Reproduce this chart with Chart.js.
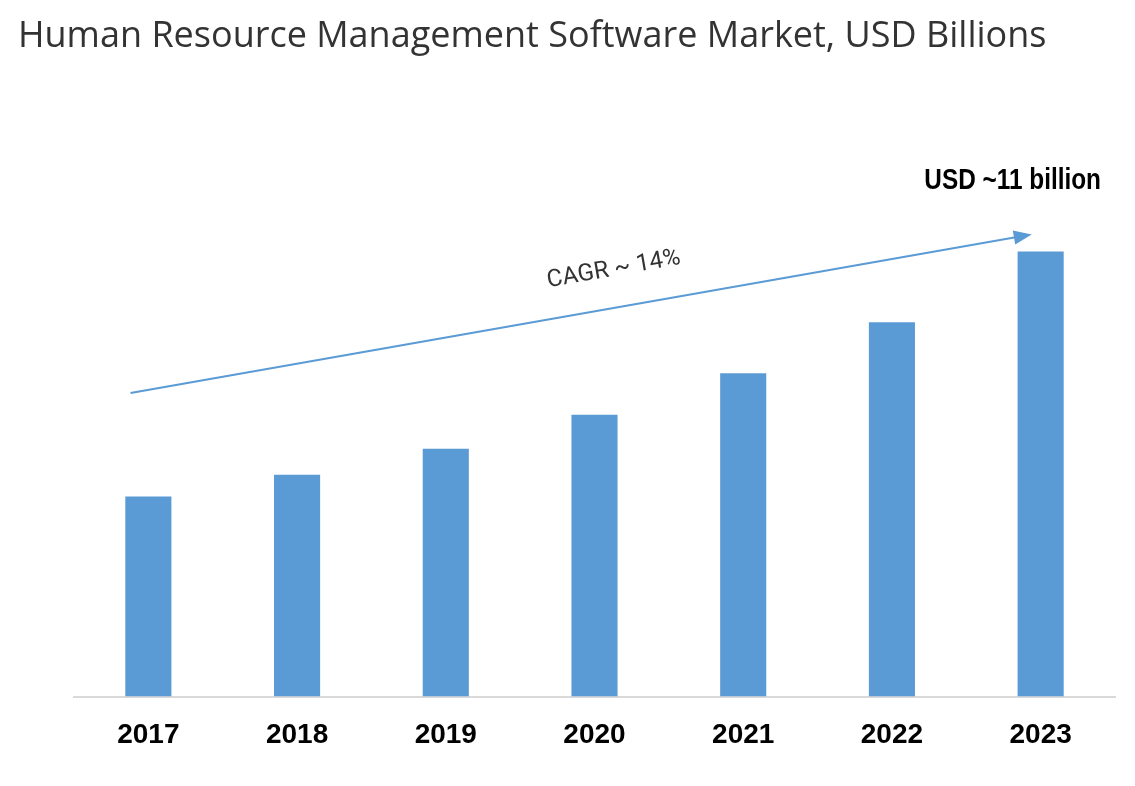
<!DOCTYPE html>
<html>
<head>
<meta charset="utf-8">
<script src="https://cdn.jsdelivr.net/npm/chart.js@4"></script>
<style>
body{margin:0;background:#fff;}
#wrap{position:relative;width:1135px;height:786px;}
#title{position:absolute;left:18px;top:16px;font-family:"Open Sans",sans-serif;font-size:36px;line-height:36px;color:#333;white-space:nowrap;}
#c{position:absolute;left:0;top:0;}
</style>
</head>
<body>
<div id="wrap">
<canvas id="c" width="1135" height="786"></canvas>
<div id="title">Human Resource Management Software Market, USD Billions</div>
</div>
<script>
const years = ['2017','2018','2019','2020','2021','2022','2023'];
const marketSize = [4.94, 5.48, 6.12, 6.96, 7.99, 9.25, 11];
const cagrLabel = 'CAGR ~ 14%';
const endLabel = 'USD ~11 billion';

const blue = '#5B9BD5';

// arrow + labels drawn over the bars, positioned through the scales
const annotate = {
  id:'annotate',
  afterDatasetsDraw(chart){
    const c = chart.ctx, x = chart.scales.x, y = chart.scales.y;
    const x1 = x.getPixelForValue(-0.12), y1 = y.getPixelForValue(7.5);
    const x2 = x.getPixelForValue(5.94), y2 = y.getPixelForValue(11.42);
    const ang = Math.atan2(y2 - y1, x2 - x1);
    c.save();
    c.strokeStyle = blue; c.fillStyle = blue; c.lineWidth = 2;
    c.beginPath();
    c.moveTo(x1, y1);
    c.lineTo(x2 - 12*Math.cos(ang), y2 - 12*Math.sin(ang));
    c.stroke();
    c.beginPath();
    c.moveTo(x2, y2);
    c.lineTo(x2 - 18*Math.cos(ang) + 7*Math.sin(ang), y2 - 18*Math.sin(ang) - 7*Math.cos(ang));
    c.lineTo(x2 - 18*Math.cos(ang) - 7*Math.sin(ang), y2 - 18*Math.sin(ang) + 7*Math.cos(ang));
    c.closePath();
    c.fill();

    // CAGR text along the arrow
    const mx = x.getPixelForValue(3.13), my = y.getPixelForValue(10.55);
    c.translate(mx, my);
    c.rotate(ang);
    c.fillStyle = '#333';
    c.font = '24px Roboto, sans-serif';
    c.textAlign = 'center'; c.textBaseline = 'middle';
    c.fillText(cagrLabel, 0, 0);
    c.restore();

    // end value, squeezed like the original
    c.save();
    c.fillStyle = '#000';
    c.font = 'bold 29px "Liberation Sans", Arial, sans-serif';
    c.textAlign = 'center'; c.textBaseline = 'middle';
    c.translate(x.getPixelForValue(6) - 28, y.getPixelForValue(12.75));
    c.scale(0.84, 1);
    c.fillText(endLabel, 0, 0);
    c.restore();
  }
};

new Chart(document.getElementById('c'), {
  type:'bar',
  data:{
    labels:years,
    datasets:[{
      data:marketSize,
      backgroundColor:blue,
      barPercentage:0.31,
      categoryPercentage:1
    }]
  },
  options:{
    responsive:false,
    animation:false,
    layout:{padding:{left:74, right:20, top:130, bottom:0}},
    plugins:{legend:{display:false}, tooltip:{enabled:false}},
    scales:{
      x:{
        grid:{display:false, drawTicks:false},
        border:{color:'#d9d9d9', width:2},
        ticks:{color:'#000', padding:22, font:{family:'"Liberation Sans", Arial, sans-serif', size:28, weight:'bold'}},
        afterFit(s){ s.height = 89.5; }
      },
      y:{display:false, min:0, max:14}
    }
  },
  plugins:[annotate]
});
</script>
</body>
</html>
